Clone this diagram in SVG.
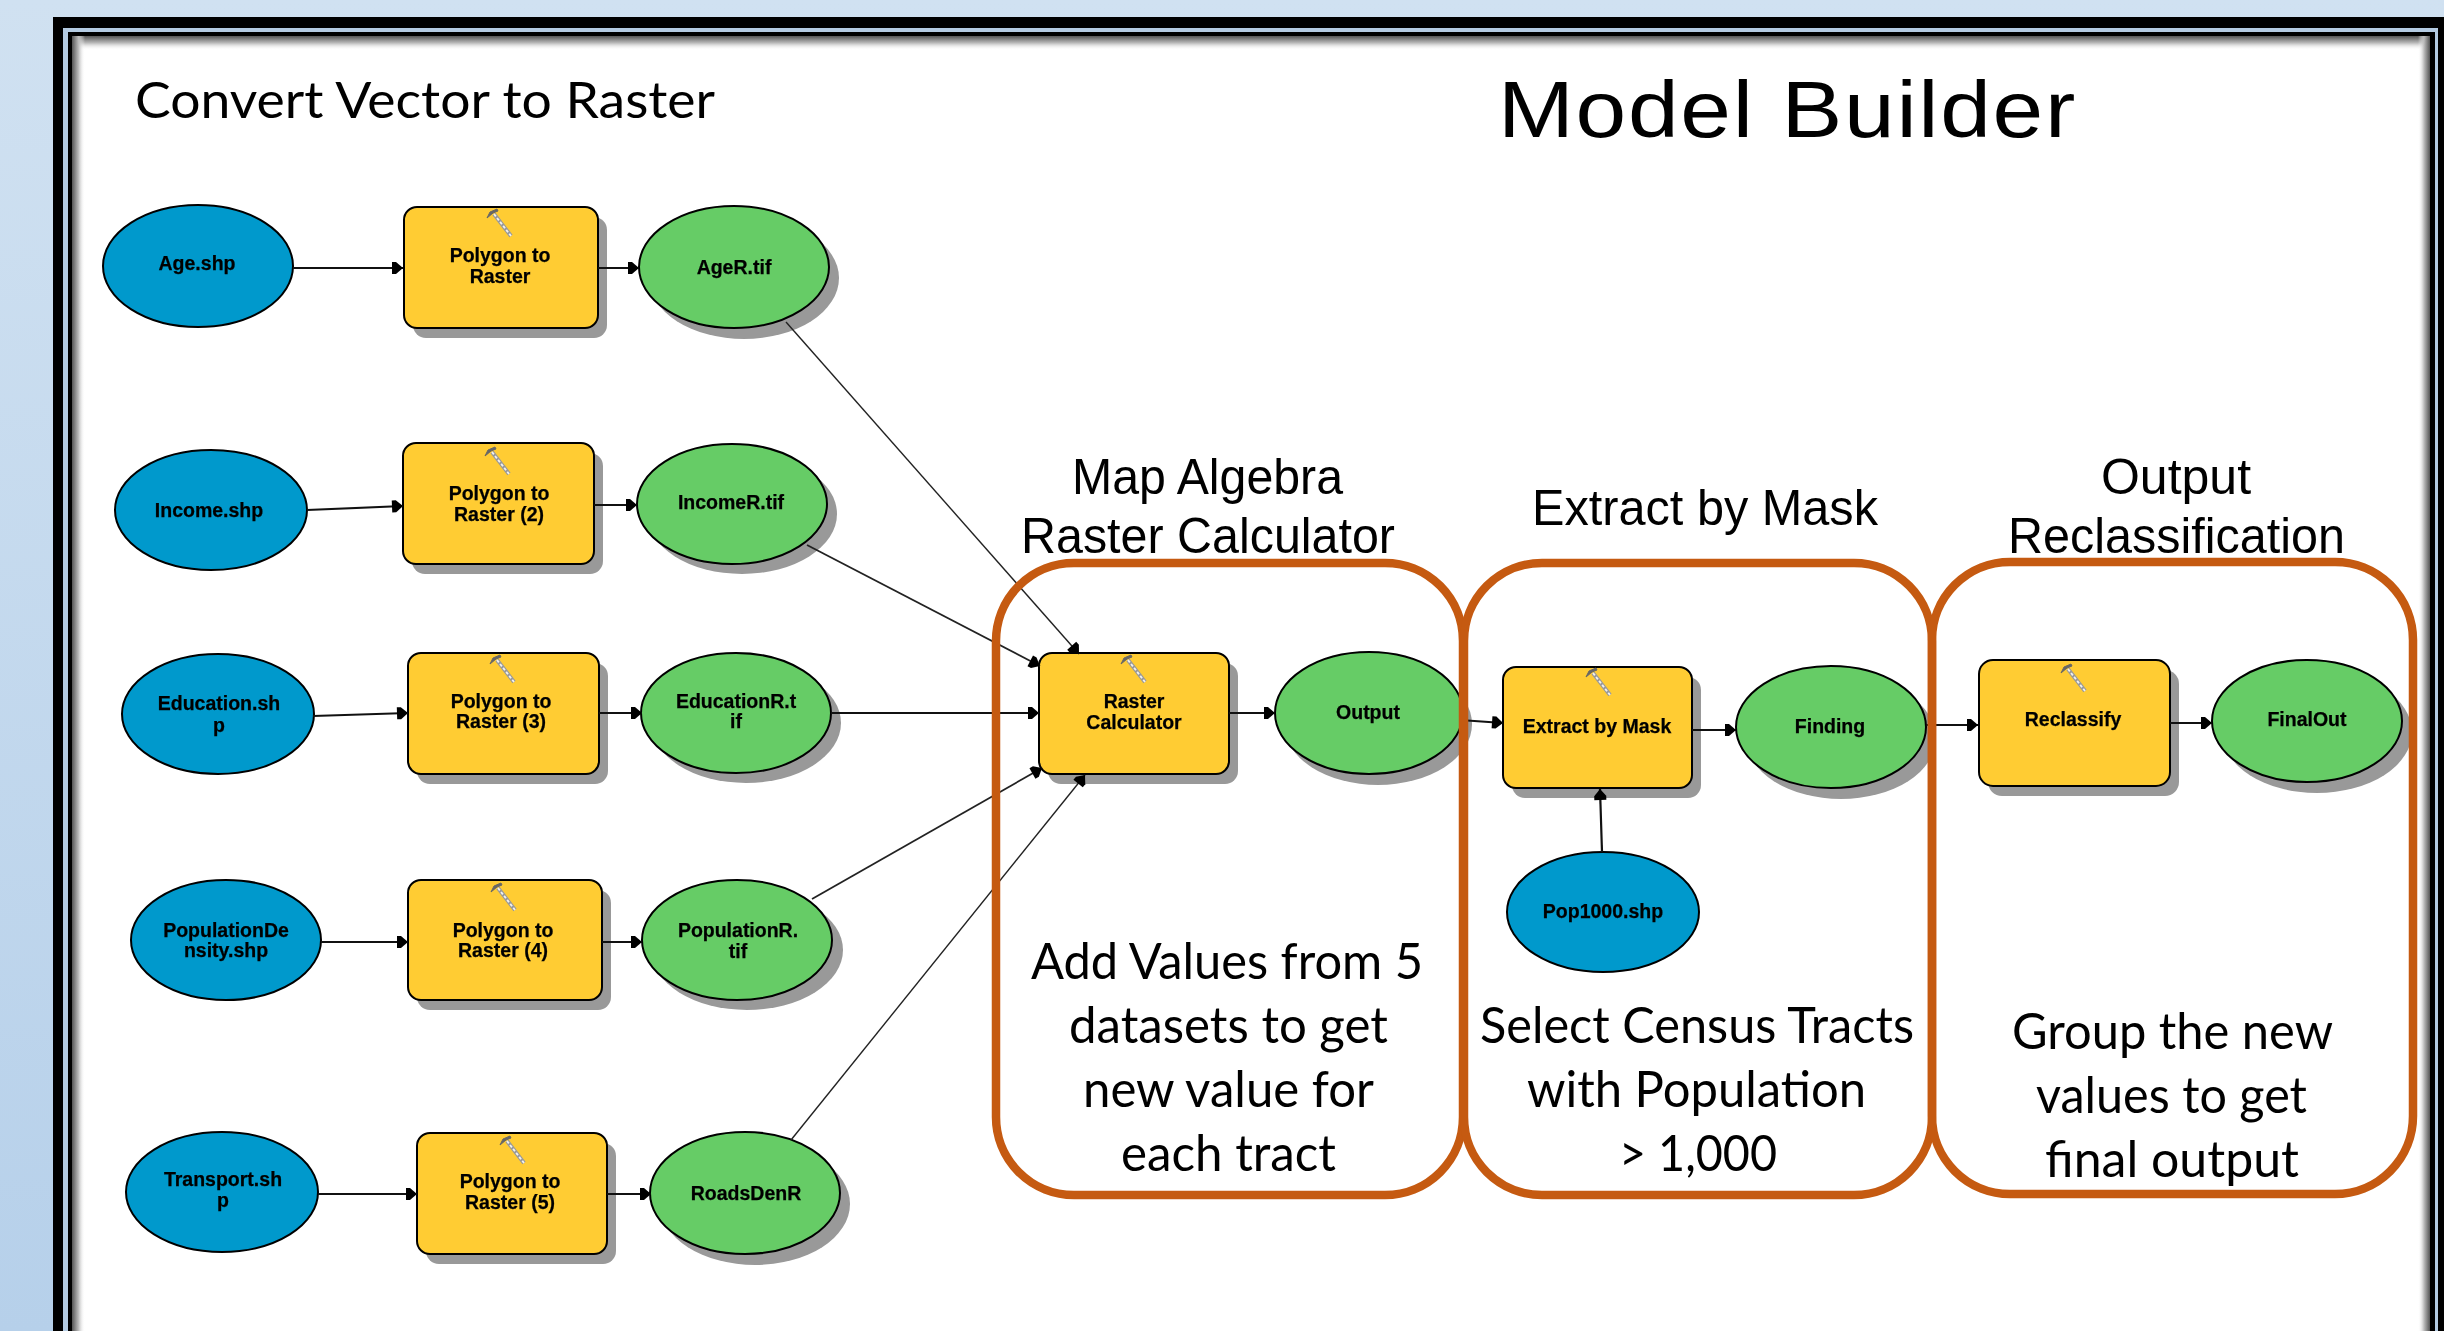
<svg xmlns="http://www.w3.org/2000/svg" width="2444" height="1331" viewBox="0 0 2444 1331">
<style>
.in{fill:#0099cc;stroke:#000;stroke-width:2}
.tool{fill:#ffcc33;stroke:#000;stroke-width:2}
.out{fill:#66cc66;stroke:#000;stroke-width:2}
.sh{fill:#999}
.nt{font-family:"Liberation Sans",Arial,sans-serif;font-weight:700;font-size:19.5px;fill:#000;stroke:#000;stroke-width:0.25;text-anchor:middle;filter:url(#soft)}
.cal{font-family:Lato,"Open Sans",sans-serif;font-size:50px;fill:#000}
.ari{font-family:"Liberation Sans",Arial,sans-serif;font-size:50px;fill:#000}
.big{font-family:"Liberation Sans",Arial,sans-serif;font-size:80px;letter-spacing:1.5px;fill:#000}
.c{fill:none;stroke:#111;stroke-width:2.2;marker-end:url(#ah)}
.d{fill:none;stroke:#222;stroke-width:1.4;marker-end:url(#ah)}
.box{fill:none;stroke:#c55a11;stroke-width:8.5}
</style>
<defs>
<linearGradient id="bg" x1="0" y1="0" x2="0" y2="1"><stop offset="0" stop-color="#d0e1f1"/><stop offset="1" stop-color="#b6d0ea"/></linearGradient>
<linearGradient id="sT" x1="0" y1="0" x2="0" y2="1"><stop offset="0" stop-color="#555"/><stop offset="0.5" stop-color="#bbb"/><stop offset="1" stop-color="#fff" stop-opacity="0"/></linearGradient>
<linearGradient id="sL" x1="0" y1="0" x2="1" y2="0"><stop offset="0" stop-color="#555"/><stop offset="0.5" stop-color="#bbb"/><stop offset="1" stop-color="#fff" stop-opacity="0"/></linearGradient>
<linearGradient id="sR" x1="1" y1="0" x2="0" y2="0"><stop offset="0" stop-color="#555"/><stop offset="0.5" stop-color="#bbb"/><stop offset="1" stop-color="#fff" stop-opacity="0"/></linearGradient>
<filter id="soft" x="-5%" y="-10%" width="110%" height="120%"><feGaussianBlur stdDeviation="0.45"/></filter>
<marker id="ah" markerUnits="userSpaceOnUse" markerWidth="13" markerHeight="14" refX="12" refY="7" orient="auto"><path d="M1 1H5L12 7L5 13H1Z" fill="#000"/></marker>
<g id="hammer"><path d="M7 5L24 27" stroke="#999" stroke-width="4" fill="none"/><path d="M7 5L24 27" stroke="#f2f2f2" stroke-width="1.8" stroke-dasharray="3 2" fill="none"/><path d="M10 0L3 3L0 9L6 4L11 2Z" fill="#666" stroke="#666" stroke-width="1"/></g>
</defs>

<g id="background">
<rect width="2444" height="1331" fill="url(#bg)"/>
<rect x="53" y="17" width="2391" height="1314" fill="#000"/>
<rect x="63" y="28" width="2375" height="1303" fill="#b4cbe2"/>
<rect x="68" y="32" width="2367" height="1299" fill="#000"/>
<rect x="72" y="36" width="2358" height="1295" fill="#fff"/>
<rect x="72" y="36" width="2358" height="14" fill="url(#sT)"/>
<rect x="72" y="36" width="13" height="1295" fill="url(#sL)"/>
<rect x="2418" y="36" width="12" height="1295" fill="url(#sR)"/>
</g>

<g id="n-age"><ellipse class="in" cx="198" cy="266" rx="95" ry="61"/><text class="nt" x="197" y="270">Age.shp</text></g>
<g id="n-p2r1"><rect class="sh" x="413" y="217" width="194" height="121" rx="13"/><rect class="tool" x="404" y="207" width="194" height="121" rx="13"/><use href="#hammer" x="487" y="209"/><text class="nt" x="500" y="262">Polygon to</text><text class="nt" x="500" y="283">Raster</text></g>
<g id="n-ager"><ellipse class="sh" cx="744" cy="278" rx="95" ry="61"/><ellipse class="out" cx="734" cy="267" rx="95" ry="61"/><text class="nt" x="734" y="274">AgeR.tif</text></g>

<g id="n-income"><ellipse class="in" cx="211" cy="510" rx="96" ry="60"/><text class="nt" x="209" y="517">Income.shp</text></g>
<g id="n-p2r2"><rect class="sh" x="412" y="453" width="191" height="121" rx="13"/><rect class="tool" x="403" y="443" width="191" height="121" rx="13"/><use href="#hammer" x="485" y="447"/><text class="nt" x="499" y="500">Polygon to</text><text class="nt" x="499" y="521">Raster (2)</text></g>
<g id="n-incomer"><ellipse class="sh" cx="742" cy="514" rx="95" ry="60"/><ellipse class="out" cx="732" cy="504" rx="95" ry="60"/><text class="nt" x="731" y="509">IncomeR.tif</text></g>

<g id="n-education"><ellipse class="in" cx="218" cy="714" rx="96" ry="60"/><text class="nt" x="219" y="710">Education.sh</text><text class="nt" x="219" y="732">p</text></g>
<g id="n-p2r3"><rect class="sh" x="417" y="663" width="191" height="121" rx="13"/><rect class="tool" x="408" y="653" width="191" height="121" rx="13"/><use href="#hammer" x="490" y="655"/><text class="nt" x="501" y="708">Polygon to</text><text class="nt" x="501" y="728">Raster (3)</text></g>
<g id="n-educationr"><ellipse class="sh" cx="746" cy="723" rx="95" ry="60"/><ellipse class="out" cx="736" cy="713" rx="95" ry="60"/><text class="nt" x="736" y="708">EducationR.t</text><text class="nt" x="736" y="728">if</text></g>

<g id="n-popden"><ellipse class="in" cx="226" cy="940" rx="95" ry="60"/><text class="nt" x="226" y="937">PopulationDe</text><text class="nt" x="226" y="957">nsity.shp</text></g>
<g id="n-p2r4"><rect class="sh" x="417" y="890" width="194" height="120" rx="13"/><rect class="tool" x="408" y="880" width="194" height="120" rx="13"/><use href="#hammer" x="491" y="883"/><text class="nt" x="503" y="937">Polygon to</text><text class="nt" x="503" y="957">Raster (4)</text></g>
<g id="n-popr"><ellipse class="sh" cx="747" cy="950" rx="96" ry="60"/><ellipse class="out" cx="737" cy="940" rx="95" ry="60"/><text class="nt" x="738" y="937">PopulationR.</text><text class="nt" x="738" y="958">tif</text></g>

<g id="n-transport"><ellipse class="in" cx="222" cy="1192" rx="96" ry="60"/><text class="nt" x="223" y="1186">Transport.sh</text><text class="nt" x="223" y="1207">p</text></g>
<g id="n-p2r5"><rect class="sh" x="426" y="1143" width="190" height="121" rx="13"/><rect class="tool" x="417" y="1133" width="190" height="121" rx="13"/><use href="#hammer" x="500" y="1136"/><text class="nt" x="510" y="1188">Polygon to</text><text class="nt" x="510" y="1209">Raster (5)</text></g>
<g id="n-roads"><ellipse class="sh" cx="755" cy="1204" rx="95" ry="61"/><ellipse class="out" cx="745" cy="1193" rx="95" ry="61"/><text class="nt" x="746" y="1200">RoadsDenR</text></g>

<g id="n-rastercalc"><rect class="sh" x="1048" y="663" width="190" height="121" rx="13"/><rect class="tool" x="1039" y="653" width="190" height="121" rx="13"/><use href="#hammer" x="1121" y="655"/><text class="nt" x="1134" y="708">Raster</text><text class="nt" x="1134" y="729">Calculator</text></g>
<g id="n-output"><ellipse class="sh" cx="1378" cy="724" rx="94" ry="61"/><ellipse class="out" cx="1369" cy="713" rx="94" ry="61"/><text class="nt" x="1368" y="719">Output</text></g>

<g id="n-extract"><rect class="sh" x="1512" y="677" width="189" height="121" rx="13"/><rect class="tool" x="1503" y="667" width="189" height="121" rx="13"/><use href="#hammer" x="1586" y="668"/><text class="nt" x="1597" y="733">Extract by Mask</text></g>
<g id="n-finding"><ellipse class="sh" cx="1841" cy="738" rx="95" ry="61"/><ellipse class="out" cx="1831" cy="727" rx="95" ry="61"/><text class="nt" x="1830" y="733">Finding</text></g>
<g id="n-pop1000"><ellipse class="in" cx="1603" cy="912" rx="96" ry="60"/><text class="nt" x="1603" y="918">Pop1000.shp</text></g>

<g id="n-reclassify"><rect class="sh" x="1988" y="670" width="191" height="126" rx="14"/><rect class="tool" x="1979" y="660" width="191" height="126" rx="14"/><use href="#hammer" x="2061" y="664"/><text class="nt" x="2073" y="726">Reclassify</text></g>
<g id="n-finalout"><ellipse class="sh" cx="2317" cy="732" rx="95" ry="61"/><ellipse class="out" cx="2307" cy="721" rx="95" ry="61"/><text class="nt" x="2307" y="726">FinalOut</text></g>

<g id="connectors">
<path class="c" d="M293 268H403"/>
<path class="c" d="M598 268H639"/>
<path class="c" d="M307 510L403 506"/>
<path class="c" d="M594 505H637"/>
<path class="c" d="M313 716L408 713"/>
<path class="c" d="M599 713H642"/>
<path class="c" d="M831 713H1039"/>
<path class="c" d="M321 942H408"/>
<path class="c" d="M602 942H642"/>
<path class="c" d="M318 1194H417"/>
<path class="c" d="M607 1194H651"/>
<path class="c" d="M1229 713H1275"/>
<path class="c" d="M1460 720L1503 723"/>
<path class="c" d="M1692 730H1736"/>
<path class="c" d="M1926 725H1978"/>
<path class="c" d="M2170 723H2212"/>
<path class="c" d="M1602 852L1600 789"/>
<path class="d" d="M786 322L1079 654"/>
<path class="d" d="M807 545L1040 666" style="stroke-width:1.8"/>
<path class="d" d="M812 899L1042 768" style="stroke-width:1.8"/>
<path class="d" d="M791 1140L1085 775"/>
</g>

<g id="groups">
<rect class="box" x="996" y="563" width="467" height="632" rx="78" ry="78"/>
<rect class="box" x="1464" y="563" width="468" height="632" rx="78" ry="78"/>
<rect class="box" x="1932" y="562" width="481" height="632" rx="78" ry="78"/>
</g>

<g id="labels">
<text class="cal" x="135" y="118" textLength="580" lengthAdjust="spacingAndGlyphs">Convert Vector to Raster</text>
<text class="big" x="1498" y="137" textLength="579" lengthAdjust="spacingAndGlyphs">Model Builder</text>
<text class="ari" x="1072" y="494" textLength="271" lengthAdjust="spacingAndGlyphs">Map Algebra</text>
<text class="ari" x="1021" y="553" textLength="374" lengthAdjust="spacingAndGlyphs">Raster Calculator</text>
<text class="ari" x="1532" y="525" textLength="346" lengthAdjust="spacingAndGlyphs">Extract by Mask</text>
<text class="ari" x="2176" y="494" text-anchor="middle">Output</text>
<text class="ari" x="2008" y="553" textLength="337" lengthAdjust="spacingAndGlyphs">Reclassification</text>
<text class="cal" x="1031" y="979" textLength="392" lengthAdjust="spacingAndGlyphs">Add Values from 5</text>
<text class="cal" x="1069" y="1043" textLength="319" lengthAdjust="spacingAndGlyphs">datasets to get</text>
<text class="cal" x="1083" y="1107" textLength="291" lengthAdjust="spacingAndGlyphs">new value for</text>
<text class="cal" x="1121" y="1171" textLength="215" lengthAdjust="spacingAndGlyphs">each tract</text>
<text class="cal" x="1480" y="1043" textLength="434" lengthAdjust="spacingAndGlyphs">Select Census Tracts</text>
<text class="cal" x="1527" y="1107" textLength="339" lengthAdjust="spacingAndGlyphs">with Population</text>
<text class="cal" x="1619" y="1171" textLength="158" lengthAdjust="spacingAndGlyphs">&gt; 1,000</text>
<text class="cal" x="2012" y="1049" textLength="321" lengthAdjust="spacingAndGlyphs">Group the new</text>
<text class="cal" x="2036" y="1113" textLength="271" lengthAdjust="spacingAndGlyphs">values to get</text>
<text class="cal" x="2045" y="1177" textLength="254" lengthAdjust="spacingAndGlyphs">final output</text>
</g>
</svg>
